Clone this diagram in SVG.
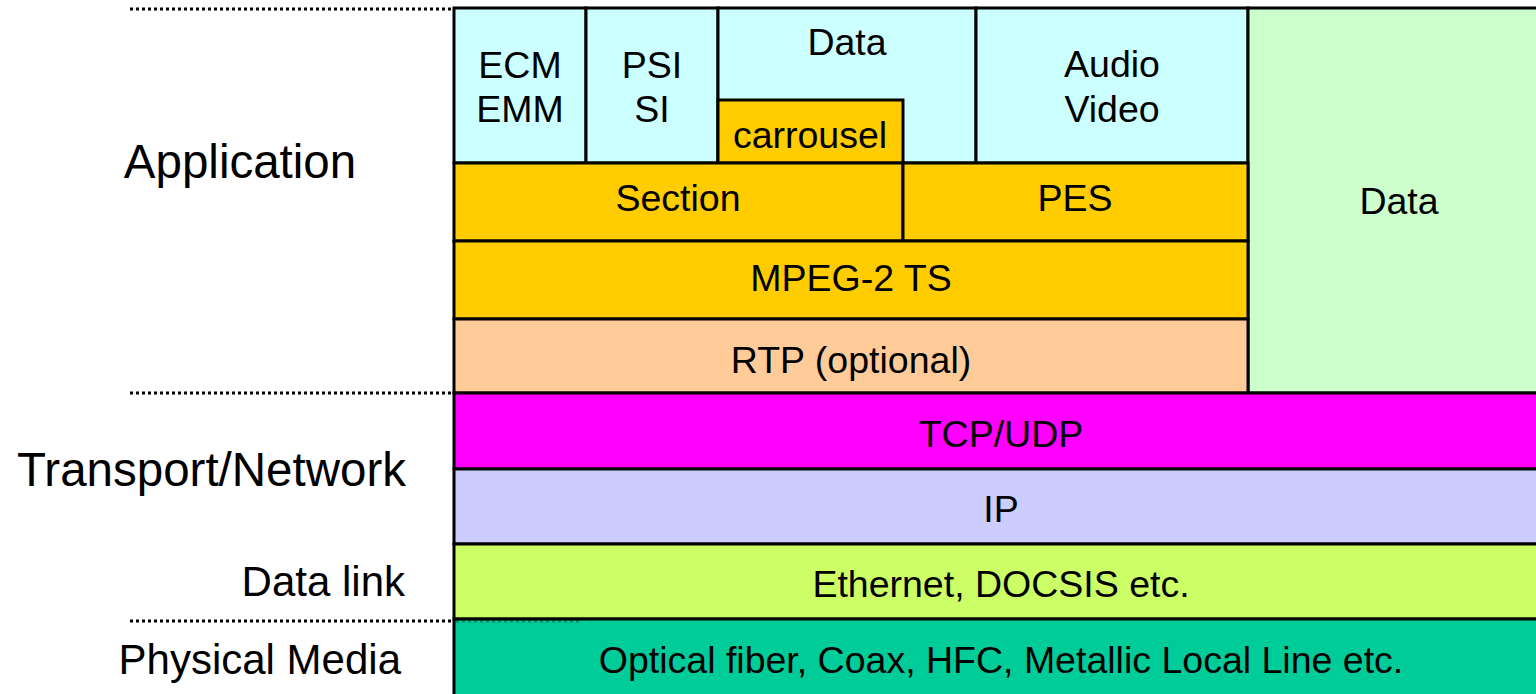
<svg xmlns="http://www.w3.org/2000/svg" width="1536" height="694" viewBox="0 0 1536 694">
<style>
.b{stroke:#000;stroke-width:3}
.t{font-family:"Liberation Sans",Arial,sans-serif;font-size:37.5px;fill:#000;text-anchor:middle}
.l{font-family:"Liberation Sans",Arial,sans-serif;font-size:42px;fill:#000}
.L{font-family:"Liberation Sans",Arial,sans-serif;font-size:47.5px;fill:#000}
.d{stroke:#000;stroke-width:3;stroke-dasharray:3 3;fill:none}
</style>
<rect width="1536" height="694" fill="#fff"/>
<g id="dividers">
<line class="d" x1="130" y1="9" x2="452" y2="9"/>
<line class="d" x1="130" y1="393" x2="452" y2="393"/>
<line class="d" x1="130" y1="621" x2="580" y2="621"/>
</g>
<g id="labels">
<text class="L" x="240" y="178" text-anchor="middle">Application</text>
<text class="L" x="406" y="486" text-anchor="end">Transport/Network</text>
<text class="l" x="405" y="596" text-anchor="end">Data link</text>
<text class="l" x="401" y="674" text-anchor="end">Physical Media</text>
</g>
<g id="ecm"><rect class="b" x="454" y="8" width="132" height="155" fill="#CCFFFF"/><text class="t" x="520" y="78">ECM</text><text class="t" x="520" y="122">EMM</text></g>
<g id="psi"><rect class="b" x="586" y="8" width="132" height="155" fill="#CCFFFF"/><text class="t" x="652" y="78">PSI</text><text class="t" x="652" y="122">SI</text></g>
<g id="data-top"><rect class="b" x="718" y="8" width="258" height="155" fill="#CCFFFF"/><text class="t" x="847" y="55">Data</text></g>
<g id="carrousel"><rect class="b" x="718" y="100" width="185" height="63" fill="#FFCC00"/><text class="t" x="810" y="148">carrousel</text></g>
<g id="audio"><rect class="b" x="976" y="8" width="272" height="155" fill="#CCFFFF"/><text class="t" x="1112" y="77">Audio</text><text class="t" x="1112" y="122">Video</text></g>
<g id="data-green"><rect class="b" x="1248" y="8" width="290" height="385" fill="#CCFFCC"/><text class="t" x="1399" y="214">Data</text></g>
<g id="section"><rect class="b" x="454" y="163" width="449" height="78" fill="#FFCC00"/><text class="t" x="678" y="211">Section</text></g>
<g id="pes"><rect class="b" x="903" y="163" width="345" height="78" fill="#FFCC00"/><text class="t" x="1075" y="211">PES</text></g>
<g id="mpeg"><rect class="b" x="454" y="241" width="794" height="78" fill="#FFCC00"/><text class="t" x="851" y="291">MPEG-2 TS</text></g>
<g id="rtp"><rect class="b" x="454" y="319" width="794" height="74" fill="#FFCC99"/><text class="t" x="851" y="373">RTP (optional)</text></g>
<g id="tcp"><rect class="b" x="454" y="393" width="1084" height="76" fill="#FF00FF"/><text class="t" x="1001" y="447">TCP/UDP</text></g>
<g id="ip"><rect class="b" x="454" y="469" width="1084" height="75" fill="#CCCCFF"/><text class="t" x="1001" y="522">IP</text></g>
<g id="eth"><rect class="b" x="454" y="544" width="1084" height="75" fill="#CCFF66"/><text class="t" x="1001" y="597">Ethernet, DOCSIS etc.</text></g>
<g id="phy"><rect class="b" x="454" y="619" width="1084" height="78" fill="#00CC99"/><text class="t" x="1001" y="673">Optical fiber, Coax, HFC, Metallic Local Line etc.</text></g>
<line class="d" x1="456" y1="621" x2="580" y2="621" stroke-opacity="0.3"/>
</svg>
